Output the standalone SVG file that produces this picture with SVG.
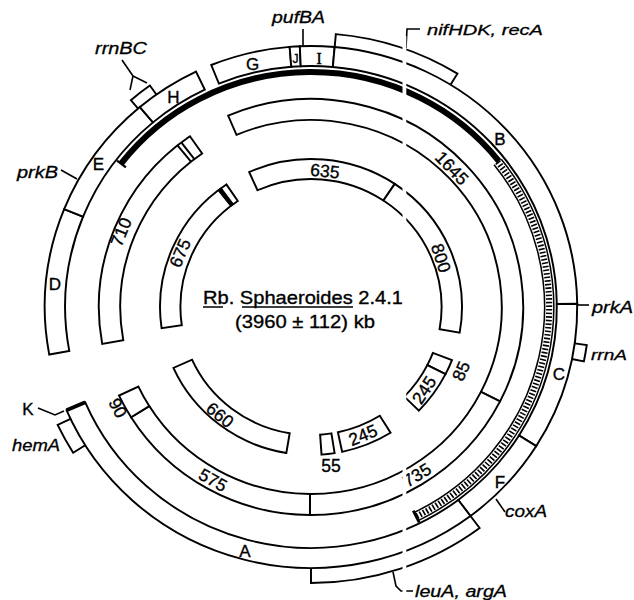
<svg xmlns="http://www.w3.org/2000/svg" width="634" height="600" viewBox="0 0 634 600">
<style>
.seg{fill:#fff;stroke:#000;stroke-width:1.9;stroke-linejoin:miter}
.open{fill:none;stroke:#000;stroke-width:1.9}
.t{font-family:"Liberation Sans",Arial,sans-serif;fill:#000;stroke:#000;stroke-width:0.35;text-anchor:middle}
.num{font-size:17.5px}
.let{font-size:17px}
.it{font-family:"Liberation Sans",Arial,sans-serif;font-style:italic;font-size:16px;fill:#000;stroke:#000;stroke-width:0.3}
</style>
<rect width="634" height="600" fill="#fff"/>
<g transform="translate(311 307) scale(1.02 1)">
  <g id="seg-G"><path class="seg" d="M-97.77,-242.00 A261,261 0 0 1 -20.93,-260.16 L-19.33,-240.23 A241,241 0 0 0 -90.28,-223.46 Z"/></g>
  <g id="seg-J"><path class="seg" d="M-20.93,-260.16 A261,261 0 0 1 -10.94,-260.77 L-10.10,-240.78 A241,241 0 0 0 -19.33,-240.23 Z"/></g>
  <g id="seg-I"><path class="seg" d="M-10.94,-260.77 A261,261 0 0 1 23.20,-259.96 L21.42,-240.04 A241,241 0 0 0 -10.10,-240.78 Z"/></g>
  <g id="seg-B"><path class="seg" d="M23.20,-259.96 A261,261 0 0 1 260.98,-3.18 L240.98,-2.94 A241,241 0 0 0 21.42,-240.04 Z"/></g>
  <g id="seg-C"><path class="seg" d="M260.98,-3.18 A261,261 0 0 1 220.86,139.09 L203.93,128.43 A241,241 0 0 0 240.98,-2.94 Z"/></g>
  <g id="seg-F"><path class="seg" d="M220.86,139.09 A261,261 0 0 1 156.34,208.98 L144.36,192.97 A241,241 0 0 0 203.93,128.43 Z"/></g>
  <g id="seg-A"><path class="seg" d="M156.34,208.98 A261,261 0 0 1 -239.70,103.23 L-221.33,95.32 A241,241 0 0 0 144.36,192.97 Z"/>
    <path d="M-221.33,95.32 L-239.70,103.23" stroke="#000" stroke-width="3.8" fill="none"/></g>
  <g id="seg-D"><path class="seg" d="M-256.64,47.55 A261,261 0 0 1 -242.00,-97.77 L-223.46,-90.28 A241,241 0 0 0 -236.98,43.91 Z"/></g>
  <g id="seg-E"><path class="seg" d="M-242.00,-97.77 A261,261 0 0 1 -167.77,-199.93 L-154.91,-184.61 A241,241 0 0 0 -223.46,-90.28 Z"/></g>
  <g id="seg-H"><path class="seg" d="M-167.77,-199.93 A261,261 0 0 1 -112.78,-235.37 L-104.14,-217.33 A241,241 0 0 0 -154.91,-184.61 Z"/></g>
  <g id="box-nif"><path class="open" d="M23.20,-259.96 L24.36,-272.90 A274,274 0 0 1 143.58,-233.37 L136.76,-222.29"/></g>
  <g id="box-leu"><path class="open" d="M156.34,208.98 L165.32,221.00 A276,276 0 0 1 0,276 L0,261"/></g>
  <g id="box-rrnA"><path class="open" d="M258.47,36.33 L270.35,38.00 A273,273 0 0 1 267.51,54.44 L255.75,52.04"/></g>
  <g id="box-hemA"><path class="open" d="M-221.33,138.30 L-233.20,145.72 A275,275 0 0 1 -248.41,117.95 L-235.76,111.94"/></g>
  <g id="box-rrnBC"><path class="open" d="M-169.49,-198.46 L-176.64,-206.83 A272,272 0 0 1 -157.95,-221.44 L-151.56,-212.48"/></g>
  <g id="band-black"><path d="M-186.19,-143.37 A235,235 0 0 1 184.17,-145.96" fill="none" stroke="#000" stroke-width="6"/>
    <path d="M-181.44,-139.71 L-190.15,-146.42" stroke="#000" stroke-width="2.2"/></g>
  <g id="band-hatched">
    <path d="M186.52,-147.82 A238,238 0 0 1 105.08,213.56" fill="none" stroke="#000" stroke-width="1.5"/>
    <path d="M179.47,-142.23 A229,229 0 0 1 101.10,205.48" fill="none" stroke="#000" stroke-width="1.5"/>
    <path d="M182.99,-145.03 A233.5,233.5 0 0 1 103.09,209.52" fill="none" stroke="#000" stroke-width="6" stroke-dasharray="1.6 2"/>
    <path d="M100.22,203.69 L105.96,215.35" stroke="#000" stroke-width="2.6"/></g>
  <g id="seg-1645"><path class="seg" d="M-81.27,-191.46 A208,208 0 0 1 185.33,94.43 L166.62,84.90 A187,187 0 0 0 -73.06,-172.13 Z"/></g>
  <g id="seg-735"><path class="seg" d="M185.33,94.43 A208,208 0 0 1 -1.08,208 L-0.97,187 A187,187 0 0 0 166.62,84.90 Z"/></g>
  <g id="seg-575"><path class="seg" d="M-1.08,208 A208,208 0 0 1 -176.38,110.22 L-158.58,99.09 A187,187 0 0 0 -0.97,187 Z"/></g>
  <g id="seg-90"><path class="seg" d="M-176.38,110.22 A208,208 0 0 1 -188.20,88.57 L-169.20,79.62 A187,187 0 0 0 -158.58,99.09 Z"/></g>
  <g id="seg-710"><path class="seg" d="M-204.71,36.84 A208,208 0 0 1 -118.71,-170.79 L-106.72,-153.55 A187,187 0 0 0 -184.05,33.12 Z"/>
    <path d="M-130.89,-161.64 L-117.68,-145.32 M-127.19,-164.57 L-114.35,-147.95" stroke="#000" stroke-width="1.9" fill="none"/></g>
  <g id="seg-635"><path class="seg" d="M-60.67,-134.99 A148,148 0 0 1 82.11,-123.14 L71.01,-106.50 A128,128 0 0 0 -52.47,-116.75 Z"/></g>
  <g id="seg-800"><path class="seg" d="M82.11,-123.14 A148,148 0 0 1 145.75,25.69 L126.05,22.22 A128,128 0 0 0 71.01,-106.50 Z"/></g>
  <g id="seg-85"><path class="seg" d="M138.17,53.04 A148,148 0 0 1 131.87,67.19 L114.05,58.11 A128,128 0 0 0 119.50,45.88 Z"/></g>
  <g id="seg-245a"><path class="seg" d="M131.87,67.19 A148,148 0 0 1 105.75,103.56 L91.46,89.56 A128,128 0 0 0 114.05,58.11 Z"/></g>
  <g id="seg-245b"><path class="seg" d="M78.00,125.79 A148,148 0 0 1 30.52,144.82 L26.39,125.25 A128,128 0 0 0 67.46,108.79 Z"/></g>
  <g id="seg-55"><path class="seg" d="M23.15,146.18 A148,148 0 0 1 10.33,147.64 L8.93,127.69 A128,128 0 0 0 20.02,126.43 Z"/></g>
  <g id="seg-660"><path class="seg" d="M-24.17,146.02 A148,148 0 0 1 -134.89,60.90 L-116.66,52.67 A128,128 0 0 0 -20.90,126.28 Z"/></g>
  <g id="seg-675"><path class="seg" d="M-146.49,21.10 A148,148 0 0 1 -82.97,-122.56 L-71.76,-106.00 A128,128 0 0 0 -126.69,18.25 Z"/>
    <path d="M-91.12,-116.62 A148,148 0 0 1 -88.03,-118.98 L-76.13,-102.90 A128,128 0 0 0 -78.81,-100.86 Z" fill="#000" stroke="#000" stroke-width="1"/></g>
</g>
<g id="letters" class="t let">
  <text x="252.5" y="70">G</text>
  <text x="295.5" y="63" style="font-size:12px">J</text>
  <text x="319" y="64" style="font-family:'Liberation Serif',serif">I</text>
  <text x="500" y="145">B</text>
  <text x="559" y="380">C</text>
  <text x="500" y="488">F</text>
  <text x="245" y="557">A</text>
  <text x="55" y="290">D</text>
  <text x="98.5" y="170">E</text>
  <text x="173.5" y="103">H</text>
  <text x="28" y="415">K</text>
</g>
<g id="numbers" class="t num">
  <text transform="translate(452 168) rotate(46)" dy=".35em">1645</text>
  <text transform="translate(121 232) rotate(-68)" dy=".35em">710</text>
  <text transform="translate(213 480) rotate(29)" dy=".35em">575</text>
  <text transform="translate(417 475) rotate(-32)" dy=".35em">735</text>
  <text transform="translate(118 408) rotate(62)" dy=".35em">90</text>
  <text transform="translate(325 171) rotate(6)" dy=".35em">635</text>
  <text transform="translate(441 258) rotate(72)" dy=".35em">800</text>
  <text transform="translate(180 253) rotate(-67)" dy=".35em">675</text>
  <text transform="translate(220 415) rotate(39)" dy=".35em">660</text>
  <text transform="translate(424 390) rotate(-57)" dy=".35em">245</text>
  <text transform="translate(363 435) rotate(-22)" dy=".35em">245</text>
  <text transform="translate(461 371) rotate(-67)" dy=".35em">85</text>
  <text x="331" y="472">55</text>
</g>
<g id="genes">
  <text class="it" x="272" y="23" textLength="53" lengthAdjust="spacingAndGlyphs">pufBA</text>
  <text class="it" x="427" y="35" textLength="116" lengthAdjust="spacingAndGlyphs" style="font-size:15px">nifHDK, recA</text>
  <text class="it" x="95" y="54" textLength="52" lengthAdjust="spacingAndGlyphs" style="font-size:17px">rrnBC</text>
  <text class="it" x="17" y="178" textLength="41" lengthAdjust="spacingAndGlyphs">prkB</text>
  <text class="it" x="592" y="313" textLength="41" lengthAdjust="spacingAndGlyphs">prkA</text>
  <text class="it" x="591" y="360" textLength="36" lengthAdjust="spacingAndGlyphs" style="font-size:15px">rrnA</text>
  <text class="it" x="12" y="451" textLength="48" lengthAdjust="spacingAndGlyphs">hemA</text>
  <text class="it" x="505" y="517" textLength="42" lengthAdjust="spacingAndGlyphs">coxA</text>
  <text class="it" x="415" y="597" textLength="92" lengthAdjust="spacingAndGlyphs">leuA, argA</text>
</g>
<g id="title" style="font-family:'Liberation Sans',Arial,sans-serif;font-size:18.5px;stroke:#000;stroke-width:0.35">
  <text x="203" y="304" textLength="200" lengthAdjust="spacingAndGlyphs">Rb. Sphaeroides 2.4.1</text>
  <path d="M203,307 L223,307 M242,307 L353,307" stroke="#000" stroke-width="1.6"/>
  <text x="235" y="328" textLength="140" lengthAdjust="spacingAndGlyphs">(3960 ± 112) kb</text>
</g>
<g id="connectors" fill="none" stroke="#000" stroke-width="1.6">
  <path d="M303,29 L303,47"/>
  <path d="M406,48 L407,29 L420,29"/>
  <path d="M122,60 L133,76 L130,90 M133,76 L147,83"/>
  <path d="M61,170 L77,179"/>
  <path d="M38,408 L55,415 L64,411"/>
  <path d="M577,305 L589,305"/>
  <path d="M496,499 L505,512"/>
  <path d="M393,572 L396,586 L401,591 L413,591"/>
</g>
<rect x="402.5" y="36" width="3.8" height="556" fill="#fff"/>
</svg>
